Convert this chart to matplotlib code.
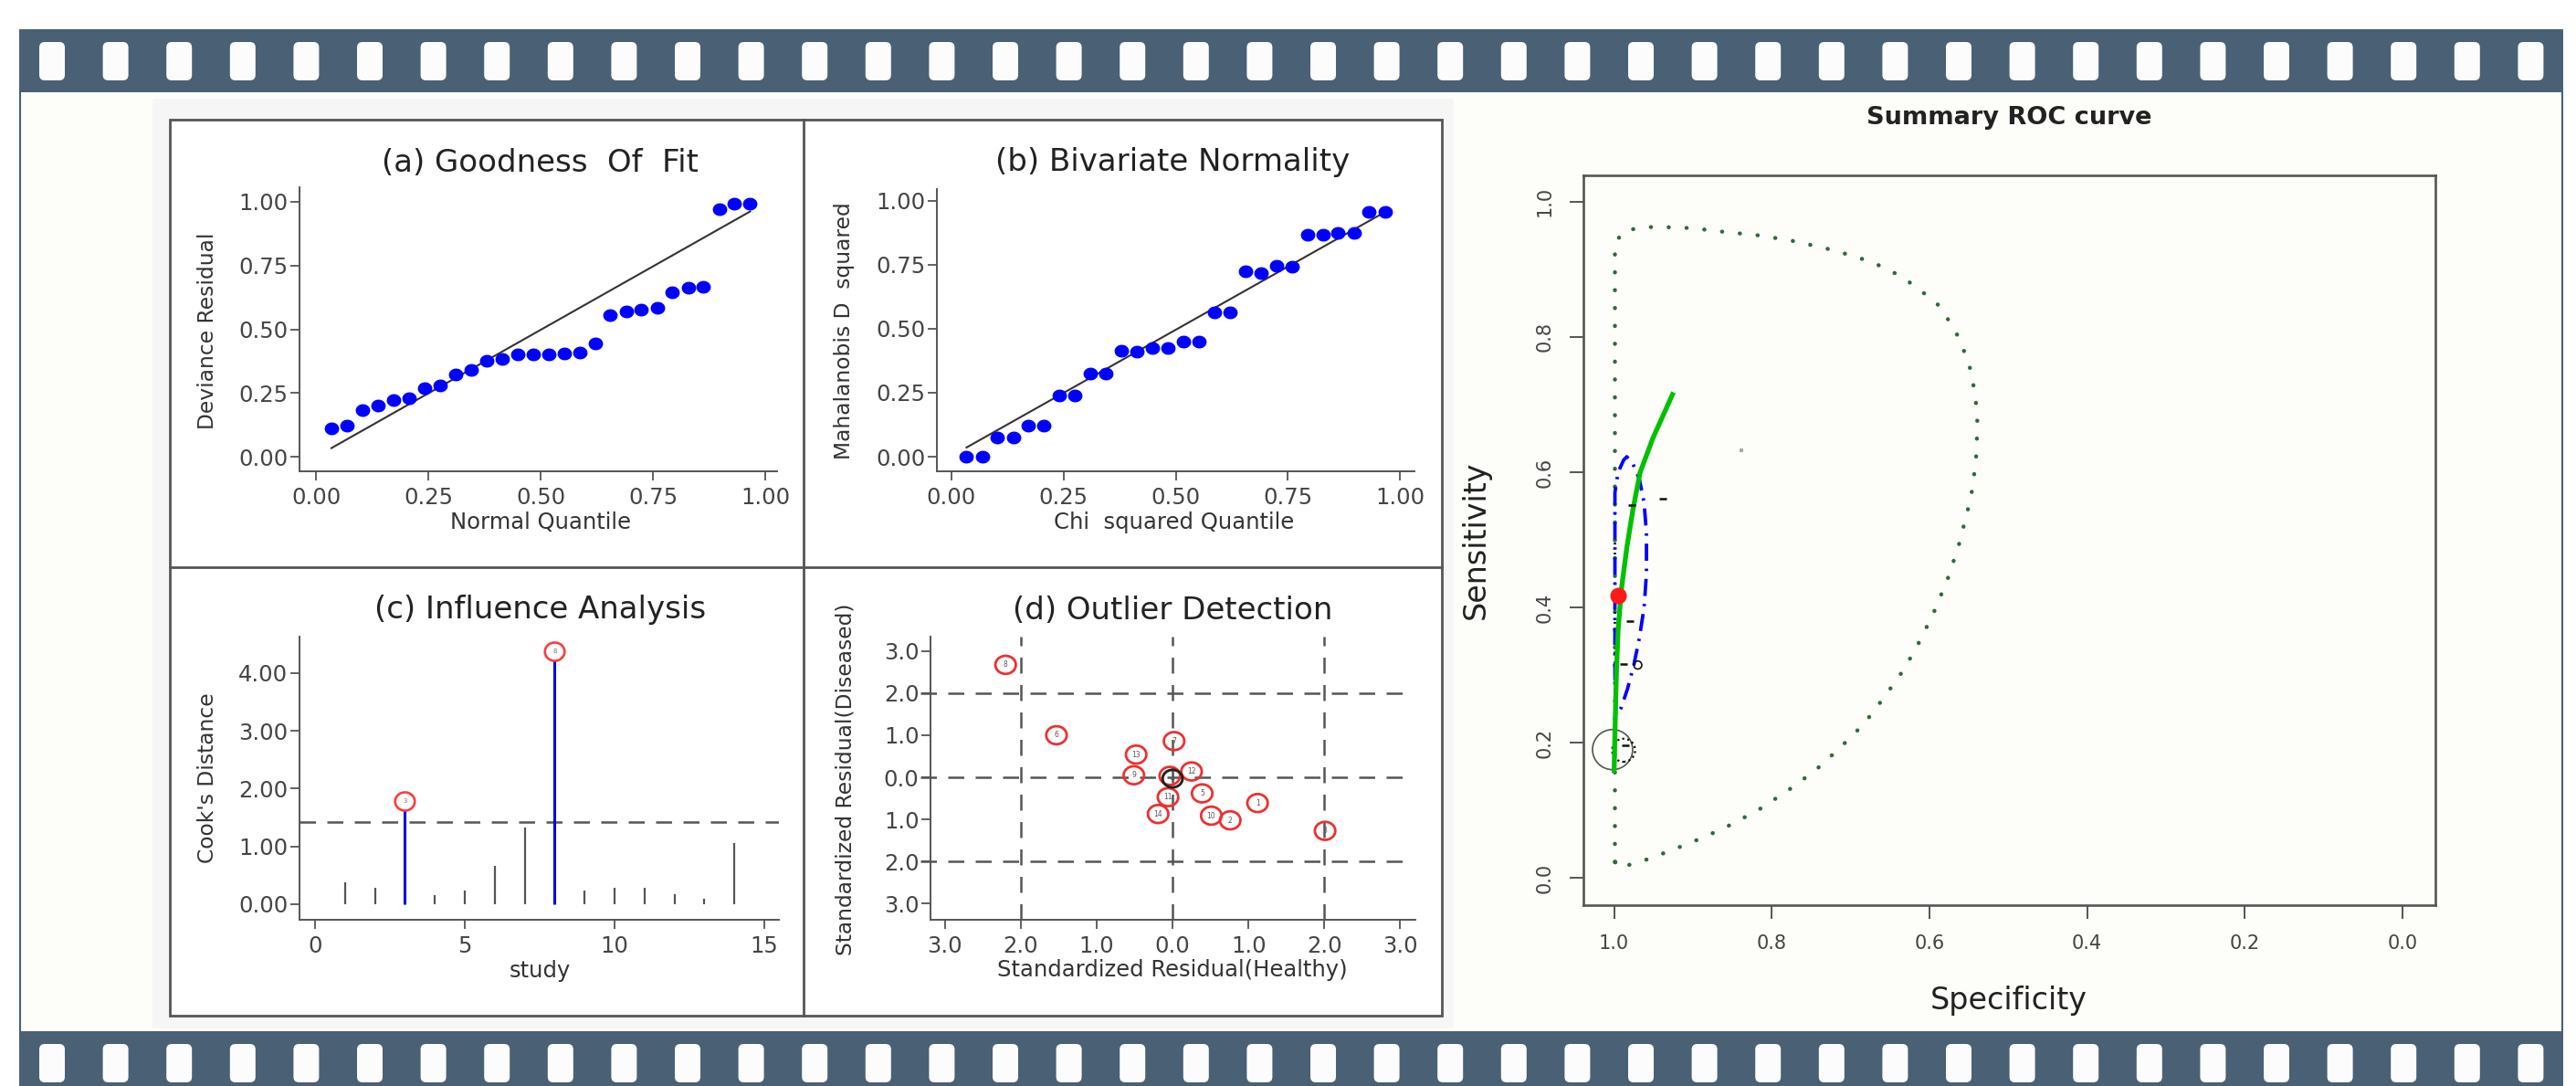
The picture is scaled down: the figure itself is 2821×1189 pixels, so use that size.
import numpy as np
import matplotlib
matplotlib.use("Agg")
import matplotlib.pyplot as plt
from matplotlib.patches import Rectangle, FancyBboxPatch
from matplotlib.path import Path
from matplotlib.ticker import FixedLocator, FixedFormatter
import matplotlib.transforms as mtransforms

W, H = 2821, 1189
plt.rcParams['font.family'] = ['DejaVu Sans']

# ---------------- data ----------------
# (a) Goodness of fit
normal_quantile = [0.034, 0.069, 0.103, 0.138, 0.172, 0.207, 0.241, 0.276, 0.310, 0.345,
                   0.379, 0.414, 0.448, 0.483, 0.517, 0.552, 0.586, 0.621, 0.655, 0.690,
                   0.724, 0.759, 0.793, 0.828, 0.862, 0.897, 0.931, 0.966]
deviance_residual = [0.110, 0.122, 0.182, 0.201, 0.221, 0.231, 0.269, 0.281, 0.323, 0.341,
                     0.376, 0.385, 0.403, 0.403, 0.403, 0.406, 0.409, 0.444, 0.556, 0.571,
                     0.576, 0.585, 0.645, 0.663, 0.667, 0.971, 0.992, 0.994]
gof_line_x = [0.034, 0.966]
gof_line_y = [0.034, 0.962]

# (b) Bivariate normality
chi2_quantile = [0.034, 0.069, 0.103, 0.138, 0.172, 0.207, 0.241, 0.276, 0.310, 0.345,
                 0.379, 0.414, 0.448, 0.483, 0.517, 0.552, 0.586, 0.621, 0.655, 0.690,
                 0.724, 0.759, 0.793, 0.828, 0.862, 0.897, 0.931, 0.966]
mahalanobis_d2 = [0.000, 0.000, 0.074, 0.074, 0.123, 0.123, 0.238, 0.238, 0.324, 0.324,
                  0.414, 0.411, 0.425, 0.425, 0.449, 0.449, 0.563, 0.563, 0.723, 0.719,
                  0.746, 0.744, 0.869, 0.869, 0.873, 0.873, 0.958, 0.956]
bvn_line_x = [0.034, 0.966]
bvn_line_y = [0.036, 0.956]

# (c) Influence analysis
study = [1, 2, 3, 4, 5, 6, 7, 8, 9, 10, 11, 12, 13, 14]
cooks_distance = [0.38, 0.29, 1.79, 0.16, 0.23, 0.66, 1.32, 4.38, 0.24, 0.29, 0.28, 0.17, 0.09, 1.05]
cooks_threshold = 1.42
influential = [3, 8]

# (d) Outlier detection
resid_healthy = [1.12, 0.76, 2.01, 0.00, 0.39, -1.53, 0.02, -2.20, -0.51, 0.51, -0.06, 0.25, -0.48, -0.19]
resid_diseased = [-0.61, -1.02, -1.27, -0.03, -0.38, 1.00, 0.86, 2.67, 0.05, -0.91, -0.47, 0.14, 0.54, -0.87]
outlier_refs = [-2.0, 0.0, 2.0]

# tick labels
ticks_ab = [0.0, 0.25, 0.5, 0.75, 1.0]
ticklabels_ab = ['0.00', '0.25', '0.50', '0.75', '1.00']
ticks_cy = [0, 1, 2, 3, 4]
ticklabels_cy = ['0.00', '1.00', '2.00', '3.00', '4.00']
ticks_cx = [0, 5, 10, 15]
ticklabels_cx = ['0', '5', '10', '15']
ticks_d = [-3, -2, -1, 0, 1, 2, 3]
ticklabels_d = ['3.0', '2.0', '1.0', '0.0', '1.0', '2.0', '3.0']

# Summary ROC
pred_spec = [0.999, 0.999, 0.990, 0.971, 0.948, 0.901, 0.857, 0.814, 0.773, 0.731, 0.691,
             0.653, 0.620, 0.590, 0.568, 0.552, 0.546, 0.543, 0.540, 0.539, 0.540, 0.541,
             0.544, 0.547, 0.552, 0.563, 0.576, 0.592, 0.611, 0.632, 0.657, 0.683, 0.714,
             0.745, 0.779, 0.814, 0.850, 0.885, 0.921, 0.957, 0.976, 0.992, 0.999]
pred_sens = [0.024, 0.936, 0.955, 0.961, 0.963, 0.961, 0.955, 0.950, 0.942, 0.931, 0.918,
             0.901, 0.877, 0.849, 0.812, 0.768, 0.744, 0.719, 0.695, 0.669, 0.642, 0.616,
             0.590, 0.565, 0.541, 0.491, 0.445, 0.399, 0.353, 0.309, 0.268, 0.228, 0.192,
             0.159, 0.130, 0.103, 0.080, 0.061, 0.044, 0.028, 0.022, 0.014, 0.024]
conf_spec = [0.998, 0.999, 0.999, 0.999, 0.995, 0.988, 0.984, 0.976, 0.968, 0.962, 0.959,
             0.959, 0.962, 0.968, 0.975, 0.983, 0.991, 0.998]
conf_sens = [0.240, 0.300, 0.450, 0.570, 0.600, 0.618, 0.623, 0.612, 0.590, 0.555, 0.510,
             0.450, 0.400, 0.355, 0.315, 0.280, 0.252, 0.240]
sroc_spec = [1.000, 0.9985, 0.997, 0.995, 0.991, 0.984, 0.976, 0.967, 0.951, 0.926]
sroc_sens = [0.159, 0.240, 0.308, 0.366, 0.425, 0.488, 0.546, 0.600, 0.650, 0.715]
summary_spec = 0.9946
summary_sens = 0.418
study_mark_spec = [0.938, 0.978, 0.980, 0.988, 0.986]
study_mark_sens = [0.561, 0.551, 0.380, 0.317, 0.197]
edge_dots_spec = [0.9995, 0.9995]
edge_dots_sens = [0.26, 0.57]
big_circle = (1.002, 0.190)
dotted_circle = (0.988, 0.189)
small_circle = (0.970, 0.315)
grey_point = (0.839, 0.632)
roc_ticks = [0.0, 0.2, 0.4, 0.6, 0.8, 1.0]
roc_ticklabels = ['0.0', '0.2', '0.4', '0.6', '0.8', '1.0']

# ---------------- figure ----------------
fig = plt.figure(figsize=(W / 100, H / 100), dpi=100)
fig.patch.set_facecolor('#ffffff')


def frac(x0, y0, x1, y1):
    return [x0 / W, 1 - y1 / H, (x1 - x0) / W, (y1 - y0) / H]


bg = fig.add_axes([0, 0, 1, 1], zorder=0)
bg.set_xlim(0, W)
bg.set_ylim(H, 0)
bg.axis('off')

SLATE = '#4a6075'
bg.add_patch(Rectangle((21, 101), 2786, 1028, fc='#fdfdf9', ec='none'))
bg.add_patch(Rectangle((21, 32), 2786, 69, fc=SLATE, ec='none'))
bg.add_patch(Rectangle((21, 1129), 2786, 70, fc=SLATE, ec='none'))
bg.plot([22, 22], [101, 1129], color=SLATE, lw=1.5)
bg.plot([2806, 2806], [101, 1129], color=SLATE, lw=1.5)
for i in range(40):
    xh = 43 + i * 69.6
    for yh in (46, 1143):
        bg.add_patch(FancyBboxPatch((xh, yh), 28, 42,
                                    boxstyle='round,pad=0,rounding_size=6',
                                    fc='#fcfcfc', ec='none'))

# left composite panel
bg.add_patch(Rectangle((167, 108), 1425, 1018, fc='#f6f6f6', ec='none'))
bg.add_patch(Rectangle((186, 131), 1393, 981, fc='white', ec='#555555', lw=2.0))
bg.plot([880, 880], [131, 1112], color='#555555', lw=2.0)
bg.plot([186, 1579], [621, 621], color='#555555', lw=2.0)

TXT = '#222222'
LAB = '#333333'
for (tx, ty, s) in [(592, 178, '(a) Goodness  Of  Fit'), (1284, 178, '(b) Bivariate Normality'),
                    (592, 668, '(c) Influence Analysis'), (1284, 668, '(d) Outlier Detection')]:
    bg.text(tx, ty, s, ha='center', va='center', fontsize=24.5, color=TXT)
for (tx, ty, s) in [(592, 572, 'Normal Quantile'), (1286, 572, 'Chi  squared Quantile'),
                    (591, 1063, 'study'), (1284, 1062, 'Standardized Residual(Healthy)')]:
    bg.text(tx, ty, s, ha='center', va='center', fontsize=17.5, color=LAB)
for (tx, ty, s) in [(227, 362, 'Deviance Residual'), (924, 362, 'Mahalanobis D  squared'),
                    (227, 852, "Cook's Distance"), (926, 853, 'Standardized Residual(Diseased)')]:
    bg.text(tx, ty, s, ha='center', va='center', fontsize=16.8, color=LAB, rotation=90)

# ROC texts
bg.text(2200, 129, 'Summary ROC curve', ha='center', va='center', fontsize=19.5,
        fontweight='bold', color=TXT)
bg.text(2200, 1096, 'Specificity', ha='center', va='center', fontsize=24, color=TXT)
bg.text(1616, 591, 'Sensitivity', ha='center', va='center', fontsize=24, color=TXT, rotation=90)


def stata_axes(box, xlim, ylim):
    ax = fig.add_axes(frac(*box), zorder=2)
    ax.set_facecolor('none')
    ax.set_xlim(*xlim)
    ax.set_ylim(*ylim)
    ax.spines['top'].set_visible(False)
    ax.spines['right'].set_visible(False)
    for s in ('left', 'bottom'):
        ax.spines[s].set_color('#555555')
        ax.spines[s].set_linewidth(1.4)
    ax.tick_params(direction='out', length=7, width=1.3, colors='#555555',
                   labelcolor='#444444', labelsize=17.5)
    ax.tick_params(axis='y', pad=2)
    ax.tick_params(axis='x', pad=5)
    return ax


tt = np.linspace(0, 2 * np.pi, 61)
ell_dot = Path(np.column_stack([np.cos(tt), 0.88 * np.sin(tt)]), closed=True)
ring_c = Path(np.column_stack([np.cos(tt), 0.93 * np.sin(tt)]))
ring_d = Path(np.column_stack([np.cos(tt), 0.88 * np.sin(tt)]))

# (a)
axA = stata_axes((328, 205, 851, 516), (-0.037, 1.026), (-0.057, 1.057))
axA.plot(gof_line_x, gof_line_y, color='#333333', lw=1.5, zorder=2)
axA.scatter(normal_quantile, deviance_residual, marker=ell_dot, s=130, color='#0000ff',
            linewidths=0, zorder=3)
axA.xaxis.set_major_locator(FixedLocator(ticks_ab))
axA.xaxis.set_major_formatter(FixedFormatter(ticklabels_ab))
axA.yaxis.set_major_locator(FixedLocator(ticks_ab))
axA.yaxis.set_major_formatter(FixedFormatter(ticklabels_ab))

# (b)
axB = stata_axes((1026, 207, 1549, 516), (-0.032, 1.032), (-0.057, 1.046))
axB.plot(bvn_line_x, bvn_line_y, color='#333333', lw=1.5, zorder=2)
axB.scatter(chi2_quantile, mahalanobis_d2, marker=ell_dot, s=130, color='#0000ff',
            linewidths=0, zorder=3)
axB.xaxis.set_major_locator(FixedLocator(ticks_ab))
axB.xaxis.set_major_formatter(FixedFormatter(ticklabels_ab))
axB.yaxis.set_major_locator(FixedLocator(ticks_ab))
axB.yaxis.set_major_formatter(FixedFormatter(ticklabels_ab))

# (c)
axC = stata_axes((328, 697, 853, 1007), (-0.52, 15.49), (-0.27, 4.63))
xl = axC.get_xlim()
axC.hlines(cooks_threshold, xl[0], xl[1], colors='#555555', lw=1.8,
           linestyles=(0, (7, 5)), zorder=1)
normal_x = [s for s in study if s not in influential]
normal_y = [cooks_distance[s - 1] for s in normal_x]
inf_y = [cooks_distance[s - 1] for s in influential]
axC.vlines(normal_x, 0, normal_y, colors='#555555', lw=1.6, zorder=2)
axC.vlines(influential, 0, inf_y, colors='#0000ee', lw=2.2, zorder=2)
axC.scatter(influential, inf_y, marker=ring_c, s=240, facecolors='white',
            edgecolors='#ff3b3b', linewidths=1.9, zorder=3)
for sx, sy in zip(influential, inf_y):
    axC.text(sx, sy, str(sx), ha='center', va='center', fontsize=5, color='#777777', zorder=4)
axC.xaxis.set_major_locator(FixedLocator(ticks_cx))
axC.xaxis.set_major_formatter(FixedFormatter(ticklabels_cx))
axC.yaxis.set_major_locator(FixedLocator(ticks_cy))
axC.yaxis.set_major_formatter(FixedFormatter(ticklabels_cy))

# (d)
axD = stata_axes((1019, 697, 1550, 1007), (-3.19, 3.20), (-3.38, 3.34))
xl = axD.get_xlim()
yl = axD.get_ylim()
axD.hlines(outlier_refs, xl[0] - 0.13, 3.10, colors='#555555', lw=1.8,
           linestyles=(0, (7, 5)), zorder=1, clip_on=False)
axD.vlines(outlier_refs, yl[0], yl[1], colors='#555555', lw=1.8,
           linestyles=(0, (7, 5)), zorder=1)
red_x = [x for s, x in zip(study, resid_healthy) if s != 4]
red_y = [y for s, y in zip(study, resid_diseased) if s != 4]
axD.scatter(red_x, red_y, marker=ring_d, s=260, facecolors='none',
            edgecolors='#ee3030', linewidths=2.0, zorder=3)
off = mtransforms.offset_copy(axD.transData, fig=fig, x=-3, y=3, units='dots')
axD.scatter([resid_healthy[3]], [resid_diseased[3]], marker=ring_d, s=260,
            facecolors='none', edgecolors='#ee3030', linewidths=2.0, zorder=3, transform=off)
axD.scatter([resid_healthy[3]], [resid_diseased[3]], marker=ring_d, s=245,
            facecolors='none', edgecolors='#222222', linewidths=2.1, zorder=4)
for s, x, y in zip(study, resid_healthy, resid_diseased):
    axD.text(x, y, str(s), ha='center', va='center', fontsize=5.5, color='#555555', zorder=5)
axD.xaxis.set_major_locator(FixedLocator(ticks_d))
axD.xaxis.set_major_formatter(FixedFormatter(ticklabels_d))
axD.yaxis.set_major_locator(FixedLocator(ticks_d))
axD.yaxis.set_major_formatter(FixedFormatter(ticklabels_d))

# ROC
axR = fig.add_axes(frac(1734, 192, 2667, 991), zorder=2)
axR.set_facecolor('none')
axR.set_xlim(1.039, -0.042)
axR.set_ylim(-0.04, 1.039)
for s in axR.spines.values():
    s.set_color('#555555')
    s.set_linewidth(1.9)
axR.tick_params(direction='out', length=11, width=1.4, colors='#555555',
                labelcolor='#444444', labelsize=15, pad=12)
axR.xaxis.set_major_locator(FixedLocator(roc_ticks))
axR.xaxis.set_major_formatter(FixedFormatter(roc_ticklabels))
axR.yaxis.set_major_locator(FixedLocator(roc_ticks))
axR.yaxis.set_major_formatter(FixedFormatter(roc_ticklabels))
for lbl in axR.get_yticklabels():
    lbl.set_rotation(90)
    lbl.set_va('center')

axR.plot(pred_spec, pred_sens, color='#2b6b3b', lw=3.2, linestyle=(0, (0.05, 4.35)),
         dash_capstyle='round', zorder=2)
axR.plot(edge_dots_spec, edge_dots_sens, color='#111111', lw=2.0,
         linestyle=(0, (0.7, 3.2)), zorder=2)
axR.plot(conf_spec, conf_sens, color='#0000ff', lw=2.7, linestyle=(0, (5.0, 2.3, 0.7, 2.3)),
         zorder=3)
axR.plot(sroc_spec, sroc_sens, color='#00c000', lw=3.8, zorder=4)
axR.scatter(study_mark_spec, study_mark_sens, marker='_', s=30, color='#111111',
            linewidths=1.8, zorder=4)
axR.scatter([small_circle[0]], [small_circle[1]], marker='o', s=40, facecolors='none',
            edgecolors='#111111', linewidths=1.2, zorder=4)
axR.scatter([big_circle[0]], [big_circle[1]], marker='o', s=1000, facecolors='none',
            edgecolors='#555555', linewidths=1.2, zorder=3)
axR.scatter([dotted_circle[0]], [dotted_circle[1]], marker='o', s=330, facecolors='none',
            edgecolors='#111111', linewidths=1.6, linestyles=(0, (1, 1.5)), zorder=3)
axR.scatter([grey_point[0]], [grey_point[1]], marker='s', s=10, color='#aaaaaa',
            linewidths=0, zorder=3)
axR.plot([summary_spec], [summary_sens], 'o', color='#ff1a1a', ms=12, mec='#ff1a1a', zorder=5)

fig.savefig('out.png', dpi=100, facecolor=fig.get_facecolor())
